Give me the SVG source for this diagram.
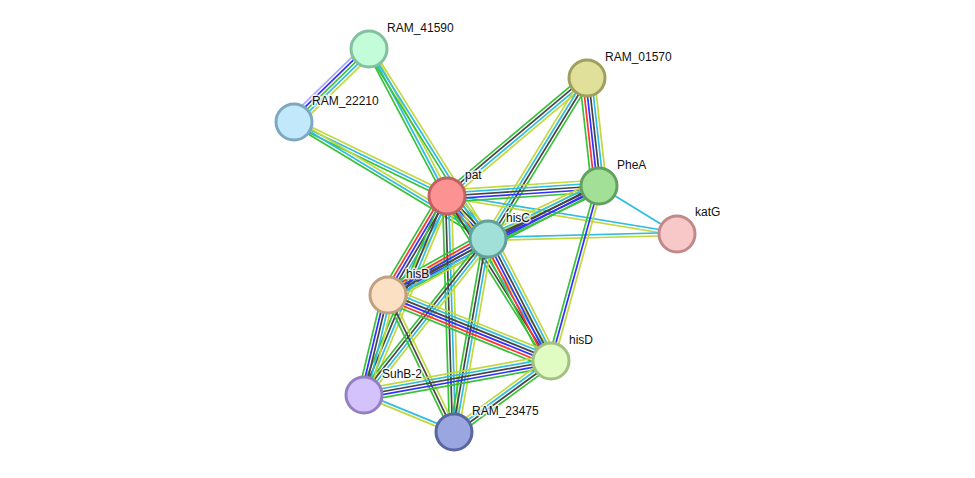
<svg xmlns="http://www.w3.org/2000/svg" width="975" height="478" viewBox="0 0 975 478">
<style>
line{stroke-width:1.7;fill:none}
.G{stroke:#37c237}.R{stroke:#ff3030}.B{stroke:#3030ff}.K{stroke:#454545}.C{stroke:#2fbde0}.Y{stroke:#c2d83c}.L{stroke:#a9a9ff}
circle{stroke-width:3}
text{font-family:"Liberation Sans",Arial,sans-serif;font-size:12px;fill:#111;stroke:#fff;stroke-width:3px;stroke-opacity:0.8;paint-order:stroke;stroke-linejoin:round}
</style>
<rect width="975" height="478" fill="#fff"/>
<g id="edges">
<g transform="translate(369 49) rotate(135.77)"><line class="Y" x2="104.7" y1="-6" y2="-6"/><line class="C" x2="104.7" y1="-3" y2="-3"/><line class="G" x2="104.7" y1="0" y2="0"/><line class="B" x2="104.7" y1="3" y2="3"/><line class="L" x2="104.7" y1="6" y2="6"/></g>
<g transform="translate(369 49) rotate(62.05)"><line class="Y" x2="166.4" y1="-3" y2="-3"/><line class="C" x2="166.4"/><line class="G" x2="166.4" y1="3" y2="3"/></g>
<g transform="translate(369 49) rotate(57.94)"><line class="Y" x2="224.2" y1="-3" y2="-3"/><line class="C" x2="224.2"/><line class="G" x2="224.2" y1="3" y2="3"/></g>
<g transform="translate(294 122) rotate(25.81)"><line class="Y" x2="170" y1="-3" y2="-3"/><line class="C" x2="170"/><line class="G" x2="170" y1="3" y2="3"/></g>
<g transform="translate(294 122) rotate(31.09)"><line class="Y" x2="226.6" y1="-3" y2="-3"/><line class="C" x2="226.6"/><line class="G" x2="226.6" y1="3" y2="3"/></g>
<g transform="translate(587 78) rotate(139.88)"><line class="Y" x2="183.1" y1="-4.5" y2="-4.5"/><line class="C" x2="183.1" y1="-1.5" y2="-1.5"/><line class="K" x2="183.1" y1="1.5" y2="1.5"/><line class="G" x2="183.1" y1="4.5" y2="4.5"/></g>
<g transform="translate(587 78) rotate(121.59)"><line class="G" x2="189" y1="-4.5" y2="-4.5"/><line class="K" x2="189" y1="-1.5" y2="-1.5"/><line class="C" x2="189" y1="1.5" y2="1.5"/><line class="Y" x2="189" y1="4.5" y2="4.5"/></g>
<g transform="translate(587 78) rotate(83.66)"><line class="Y" x2="108.7" y1="-7.5" y2="-7.5"/><line class="C" x2="108.7" y1="-4.5" y2="-4.5"/><line class="K" x2="108.7" y1="-1.5" y2="-1.5"/><line class="B" x2="108.7" y1="1.5" y2="1.5"/><line class="R" x2="108.7" y1="4.5" y2="4.5"/><line class="G" x2="108.7" y1="7.5" y2="7.5"/></g>
<g transform="translate(599 186) rotate(31.61)"><line class="C" x2="91.6"/></g>
<g transform="translate(447 196) rotate(9.38)"><line class="C" x2="233.1" y1="-1.5" y2="-1.5"/><line class="Y" x2="233.1" y1="1.5" y2="1.5"/></g>
<g transform="translate(488 239) rotate(-1.52)"><line class="C" x2="189.1" y1="-1.5" y2="-1.5"/><line class="Y" x2="189.1" y1="1.5" y2="1.5"/></g>
<g transform="translate(447 196) rotate(-3.76)"><line class="Y" x2="152.3" y1="-6" y2="-6"/><line class="C" x2="152.3" y1="-3" y2="-3"/><line class="K" x2="152.3" y1="0" y2="0"/><line class="B" x2="152.3" y1="3" y2="3"/><line class="G" x2="152.3" y1="6" y2="6"/></g>
<g transform="translate(388 295) rotate(-27.32)"><line class="Y" x2="237.5" y1="-4.5" y2="-4.5"/><line class="K" x2="237.5" y1="-1.5" y2="-1.5"/><line class="B" x2="237.5" y1="1.5" y2="1.5"/><line class="G" x2="237.5" y1="4.5" y2="4.5"/></g>
<g transform="translate(488 239) rotate(-25.52)"><line class="Y" x2="123" y1="-6" y2="-6"/><line class="C" x2="123" y1="-3" y2="-3"/><line class="K" x2="123" y1="0" y2="0"/><line class="B" x2="123" y1="3" y2="3"/><line class="G" x2="123" y1="6" y2="6"/></g>
<g transform="translate(599 186) rotate(105.34)"><line class="Y" x2="181.5" y1="-3" y2="-3"/><line class="B" x2="181.5"/><line class="G" x2="181.5" y1="3" y2="3"/></g>
<g transform="translate(447 196) rotate(46.36)"><line class="Y" x2="59.4" y1="-7.5" y2="-7.5"/><line class="C" x2="59.4" y1="-4.5" y2="-4.5"/><line class="K" x2="59.4" y1="-1.5" y2="-1.5"/><line class="B" x2="59.4" y1="1.5" y2="1.5"/><line class="R" x2="59.4" y1="4.5" y2="4.5"/><line class="G" x2="59.4" y1="7.5" y2="7.5"/></g>
<g transform="translate(447 196) rotate(120.79)"><line class="Y" x2="115.2" y1="-7.5" y2="-7.5"/><line class="C" x2="115.2" y1="-4.5" y2="-4.5"/><line class="K" x2="115.2" y1="-1.5" y2="-1.5"/><line class="B" x2="115.2" y1="1.5" y2="1.5"/><line class="R" x2="115.2" y1="4.5" y2="4.5"/><line class="G" x2="115.2" y1="7.5" y2="7.5"/></g>
<g transform="translate(447 196) rotate(57.78)"><line class="Y" x2="195" y1="-4.5" y2="-4.5"/><line class="C" x2="195" y1="-1.5" y2="-1.5"/><line class="K" x2="195" y1="1.5" y2="1.5"/><line class="G" x2="195" y1="4.5" y2="4.5"/></g>
<g transform="translate(447 196) rotate(112.64)"><line class="Y" x2="215.6" y1="-4.5" y2="-4.5"/><line class="C" x2="215.6" y1="-1.5" y2="-1.5"/><line class="K" x2="215.6" y1="1.5" y2="1.5"/><line class="G" x2="215.6" y1="4.5" y2="4.5"/></g>
<g transform="translate(447 196) rotate(88.3)"><line class="Y" x2="236.1" y1="-4.5" y2="-4.5"/><line class="C" x2="236.1" y1="-1.5" y2="-1.5"/><line class="K" x2="236.1" y1="1.5" y2="1.5"/><line class="G" x2="236.1" y1="4.5" y2="4.5"/></g>
<g transform="translate(488 239) rotate(150.75)"><line class="Y" x2="114.6" y1="-7.5" y2="-7.5"/><line class="C" x2="114.6" y1="-4.5" y2="-4.5"/><line class="K" x2="114.6" y1="-1.5" y2="-1.5"/><line class="B" x2="114.6" y1="1.5" y2="1.5"/><line class="R" x2="114.6" y1="4.5" y2="4.5"/><line class="G" x2="114.6" y1="7.5" y2="7.5"/></g>
<g transform="translate(488 239) rotate(62.69)"><line class="Y" x2="137.3" y1="-7.5" y2="-7.5"/><line class="C" x2="137.3" y1="-4.5" y2="-4.5"/><line class="K" x2="137.3" y1="-1.5" y2="-1.5"/><line class="B" x2="137.3" y1="1.5" y2="1.5"/><line class="R" x2="137.3" y1="4.5" y2="4.5"/><line class="G" x2="137.3" y1="7.5" y2="7.5"/></g>
<g transform="translate(488 239) rotate(128.48)"><line class="Y" x2="199.3" y1="-4.5" y2="-4.5"/><line class="C" x2="199.3" y1="-1.5" y2="-1.5"/><line class="K" x2="199.3" y1="1.5" y2="1.5"/><line class="G" x2="199.3" y1="4.5" y2="4.5"/></g>
<g transform="translate(488 239) rotate(99.99)"><line class="Y" x2="196" y1="-4.5" y2="-4.5"/><line class="C" x2="196" y1="-1.5" y2="-1.5"/><line class="K" x2="196" y1="1.5" y2="1.5"/><line class="G" x2="196" y1="4.5" y2="4.5"/></g>
<g transform="translate(388 295) rotate(22.04)"><line class="Y" x2="175.9" y1="-7.5" y2="-7.5"/><line class="C" x2="175.9" y1="-4.5" y2="-4.5"/><line class="K" x2="175.9" y1="-1.5" y2="-1.5"/><line class="B" x2="175.9" y1="1.5" y2="1.5"/><line class="R" x2="175.9" y1="4.5" y2="4.5"/><line class="G" x2="175.9" y1="7.5" y2="7.5"/></g>
<g transform="translate(388 295) rotate(103.5)"><line class="Y" x2="102.8" y1="-6" y2="-6"/><line class="C" x2="102.8" y1="-3" y2="-3"/><line class="K" x2="102.8" y1="0" y2="0"/><line class="B" x2="102.8" y1="3" y2="3"/><line class="G" x2="102.8" y1="6" y2="6"/></g>
<g transform="translate(388 295) rotate(64.28)"><line class="Y" x2="152.1" y1="-3" y2="-3"/><line class="K" x2="152.1"/><line class="G" x2="152.1" y1="3" y2="3"/></g>
<g transform="translate(551 361) rotate(169.7)"><line class="G" x2="190.1" y1="-6" y2="-6"/><line class="B" x2="190.1" y1="-3" y2="-3"/><line class="K" x2="190.1" y1="0" y2="0"/><line class="C" x2="190.1" y1="3" y2="3"/><line class="Y" x2="190.1" y1="6" y2="6"/></g>
<g transform="translate(551 361) rotate(143.8)"><line class="G" x2="120.2" y1="-4.5" y2="-4.5"/><line class="K" x2="120.2" y1="-1.5" y2="-1.5"/><line class="C" x2="120.2" y1="1.5" y2="1.5"/><line class="Y" x2="120.2" y1="4.5" y2="4.5"/></g>
<g transform="translate(364 395) rotate(22.35)"><line class="C" x2="97.3" y1="-1.5" y2="-1.5"/><line class="Y" x2="97.3" y1="1.5" y2="1.5"/></g>
</g>
<g id="node-RAM_41590"><circle cx="369" cy="49" r="18" fill="#c2fcd8" stroke="#82c09e"/><text x="387" y="32">RAM_41590</text></g>
<g id="node-RAM_22210"><circle cx="294" cy="122" r="18" fill="#c2e8fc" stroke="#7ea8c2"/><text x="312" y="105">RAM_22210</text></g>
<g id="node-RAM_01570"><circle cx="587" cy="78" r="18" fill="#e0e09a" stroke="#a0a05e"/><text x="605" y="61">RAM_01570</text></g>
<g id="node-pat"><circle cx="447" cy="196" r="18" fill="#fc9292" stroke="#c06262"/><text x="465" y="179">pat</text></g>
<g id="node-PheA"><circle cx="599" cy="186" r="18" fill="#a2e098" stroke="#62a05e"/><text x="617" y="169">PheA</text></g>
<g id="node-katG"><circle cx="677" cy="234" r="18" fill="#f8c8c8" stroke="#c08a8a"/><text x="695" y="216">katG</text></g>
<g id="node-hisC"><circle cx="488" cy="239" r="18" fill="#a0e0d8" stroke="#62a09a"/><text x="506" y="222">hisC</text></g>
<g id="node-hisB"><circle cx="388" cy="295" r="18" fill="#fce0c4" stroke="#c0a080"/><text x="406" y="278">hisB</text></g>
<g id="node-hisD"><circle cx="551" cy="361" r="18" fill="#e0fcc2" stroke="#a2c082"/><text x="569" y="344">hisD</text></g>
<g id="node-SuhB-2"><circle cx="364" cy="395" r="18" fill="#d4c2fc" stroke="#9480c0"/><text x="382" y="378">SuhB-2</text></g>
<g id="node-RAM_23475"><circle cx="454" cy="432" r="18" fill="#9aa6e0" stroke="#5a66a0"/><text x="472" y="415">RAM_23475</text></g>
</svg>
